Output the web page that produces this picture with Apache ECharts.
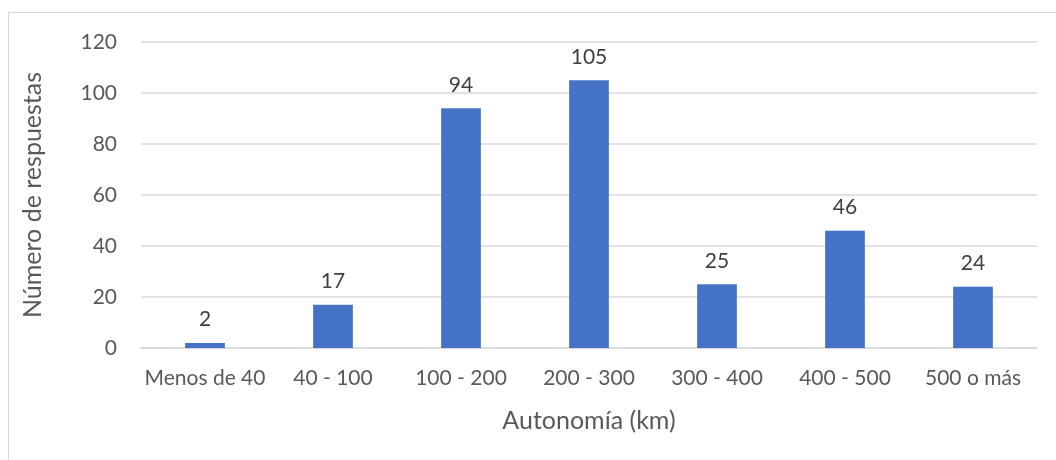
<!DOCTYPE html>
<html>
<head>
<meta charset="utf-8">
<script src="https://cdn.jsdelivr.net/npm/echarts@6/dist/echarts.min.js"></script>
<style>
  html, body { margin: 0; padding: 0; background: #fff; }
  #frame { position: absolute; left: 8px; top: 12px; width: 1060px; height: 460px; border: 1px solid #d9d9d9; box-sizing: border-box; }
  #chart { position: absolute; left: 0; top: 0; width: 1056px; height: 460px; }
</style>
</head>
<body>
<div id="frame"></div>
<div id="chart"></div>
<script>
// Autonomía declarada por los encuestados
const categories = ['Menos de 40', '40 - 100', '100 - 200', '200 - 300', '300 - 400', '400 - 500', '500 o más'];
const respuestas = [2, 17, 94, 105, 25, 46, 24];
const yTicks = { min: 0, max: 120, interval: 20 };

const font = 'Lato, "Open Sans", "Liberation Sans", sans-serif';
const textColor = '#595959';

const chart = echarts.init(document.getElementById('chart'), null, { renderer: 'canvas' });
chart.setOption({
  animation: false,
  grid: { left: 141, right: 19, top: 42, bottom: 112, containLabel: false },
  xAxis: {
    type: 'category',
    data: categories,
    name: 'Autonomía (km)',
    nameLocation: 'middle',
    nameGap: 60,
    nameTextStyle: { color: textColor, fontSize: 25, fontFamily: font },
    axisLine: { lineStyle: { color: '#d9d9d9', width: 1.5 } },
    axisTick: { show: false },
    axisLabel: { color: textColor, fontSize: 21, fontFamily: font, margin: 20, interval: 0 }
  },
  yAxis: {
    type: 'value',
    min: yTicks.min, max: yTicks.max, interval: yTicks.interval,
    name: 'Número de respuestas',
    nameLocation: 'middle',
    nameGap: 96,
    nameTextStyle: { color: textColor, fontSize: 25, fontFamily: font },
    axisLine: { show: false },
    axisTick: { show: false },
    splitLine: { lineStyle: { color: '#d9d9d9', width: 1.5 } },
    axisLabel: { color: textColor, fontSize: 21, fontFamily: font, margin: 24 }
  },
  series: [{
    type: 'bar',
    data: respuestas,
    barWidth: '31%',
    itemStyle: { color: '#4472c4' },
    label: {
      show: true,
      position: 'top',
      distance: 13,
      color: '#404040',
      fontSize: 21,
      fontFamily: font
    }
  }]
});
</script>
</body>
</html>
